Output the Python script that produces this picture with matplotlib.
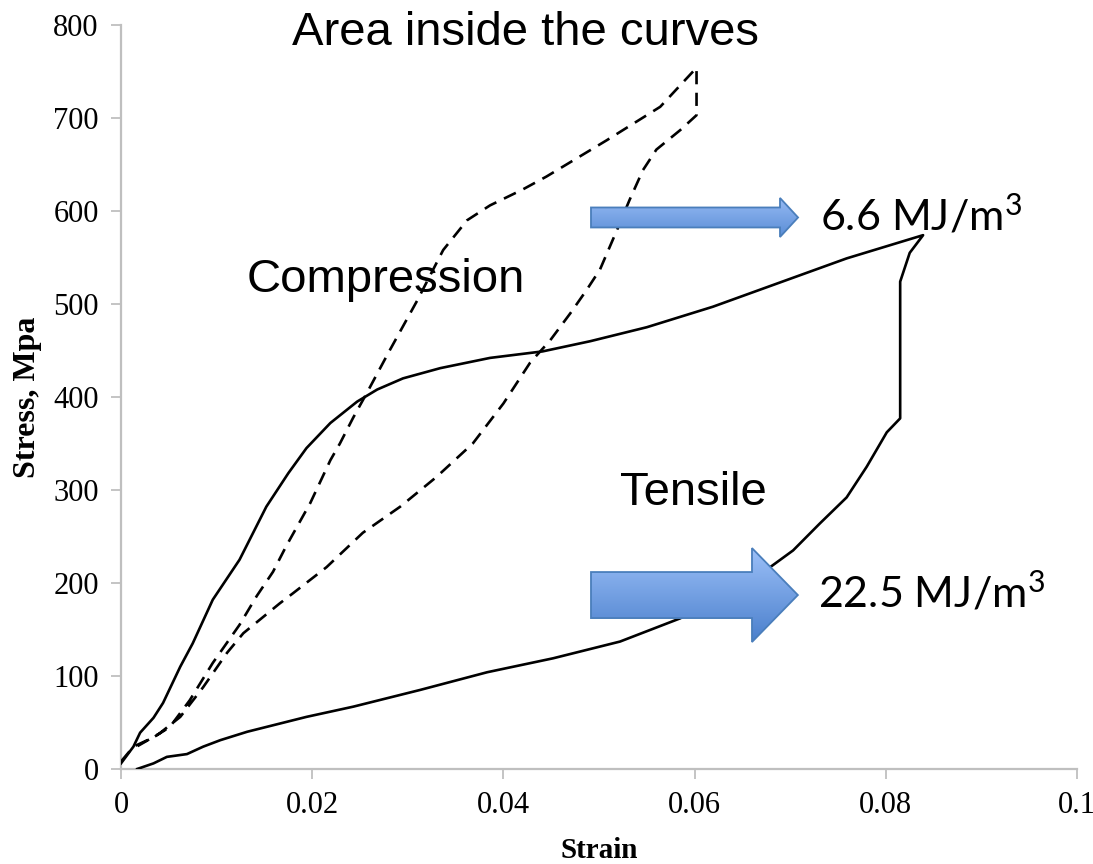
import numpy as np
import matplotlib
matplotlib.use("Agg")
import matplotlib.pyplot as plt
from matplotlib.patches import Polygon
from matplotlib.colors import LinearSegmentedColormap

# ---- data ----
tensile_strain = [0.0, 0.0013, 0.0020, 0.0034, 0.0044, 0.0062, 0.0075, 0.0096, 0.0124, 0.0152,
                  0.0175, 0.0194, 0.0219, 0.0247, 0.0268, 0.0295, 0.0334, 0.0386, 0.0441, 0.0491,
                  0.0550, 0.0619, 0.0689, 0.0759, 0.0839,
                  0.0825, 0.0815, 0.0815, 0.0801, 0.0780, 0.0759, 0.0731, 0.0703, 0.0679, 0.0630,
                  0.0585, 0.0522, 0.0452, 0.0383, 0.0313, 0.0243, 0.0194, 0.0132, 0.0104, 0.0086,
                  0.0069, 0.0048, 0.0034, 0.0017]
tensile_stress = [6, 24, 39, 55, 71, 110, 135, 182, 225, 282,
                  318, 345, 372, 395, 408, 420, 431, 442, 449, 460,
                  475, 497, 523, 549, 574,
                  555, 524, 377, 362, 325, 292, 264, 235, 217, 188,
                  162, 137, 119, 104, 85, 67, 56, 40, 31, 24,
                  16, 13, 6, 0]

compression_strain = [0.0, 0.0013, 0.0034, 0.0051, 0.0072, 0.0096, 0.0124, 0.0142, 0.0159, 0.0173,
                      0.0198, 0.0219, 0.0229, 0.0243, 0.0257, 0.0281, 0.0310, 0.0337, 0.0362,
                      0.0386, 0.0420, 0.0445, 0.0508, 0.0564, 0.0602,
                      0.0602, 0.0585, 0.0560, 0.0546, 0.0532, 0.0519, 0.0501, 0.0487, 0.0470,
                      0.0449, 0.0428, 0.0400, 0.0368, 0.0330, 0.0292, 0.0253, 0.0215, 0.0180,
                      0.0166, 0.0128, 0.0111, 0.0086, 0.0062, 0.0040, 0.0013]
compression_stress = [8, 24, 34, 45, 74, 114, 155, 186, 212, 240,
                      286, 332, 350, 378, 404, 450, 504, 558, 590,
                      606, 623, 637, 676, 712, 754,
                      703, 687, 666, 644, 612, 580, 537, 515, 490,
                      461, 437, 393, 350, 314, 282, 254, 217, 189,
                      178, 146, 125, 88, 56, 38, 22]

x_ticks = [0, 0.02, 0.04, 0.06, 0.08, 0.1]
x_tick_labels = ["0", "0.02", "0.04", "0.06", "0.08", "0.1"]
y_ticks = [0, 100, 200, 300, 400, 500, 600, 700, 800]

# ---- figure ----
plt.rcParams["mathtext.fontset"] = "custom"
plt.rcParams["mathtext.rm"] = "Lato"
plt.rcParams["mathtext.it"] = "Lato:italic"

fig = plt.figure(figsize=(10.93, 8.64), dpi=100)
ax = fig.add_axes([0.1107, 0.1100, 0.8747, 0.8611])

ax.plot(tensile_strain, tensile_stress, color="black", lw=1.9, solid_joinstyle="round", zorder=3)
ax.plot(compression_strain, compression_stress, color="black", lw=1.9,
        linestyle=(0, (5, 3.2)), zorder=3)


def grad_arrow(x0, xh, x1, yc, shaft_h, head_h, c_top, c_bot, edge):
    verts = [(x0, yc - shaft_h / 2), (xh, yc - shaft_h / 2), (xh, yc - head_h / 2), (x1, yc),
             (xh, yc + head_h / 2), (xh, yc + shaft_h / 2), (x0, yc + shaft_h / 2)]
    poly = Polygon(verts, closed=True, facecolor="none", edgecolor=edge, lw=1.3, zorder=6)
    ax.add_patch(poly)
    grad = np.linspace(0, 1, 256).reshape(-1, 1)
    cmap = LinearSegmentedColormap.from_list("g", [c_top, c_bot])
    im = ax.imshow(grad, cmap=cmap, extent=[x0, x1, yc - head_h / 2, yc + head_h / 2],
                   origin="upper", aspect="auto", zorder=5, interpolation="bilinear")
    im.set_clip_path(poly)


grad_arrow(0.04916, 0.06893, 0.07082, 593, 21.5, 42, "#97bbf4", "#5a8dd6", "#4a7ebb")
grad_arrow(0.04916, 0.0660, 0.0708, 187, 49.5, 101, "#9cc0f8", "#4a7fcc", "#4a7ebb")

ax.set_xlim(0, 0.1)
ax.set_ylim(0, 800)
ax.set_aspect("auto")

for s in ["top", "right"]:
    ax.spines[s].set_visible(False)
for s in ["left", "bottom"]:
    ax.spines[s].set_color("#bfbfbf")
    ax.spines[s].set_linewidth(1.6)

ax.set_xticks(x_ticks)
ax.set_xticklabels(x_tick_labels)
ax.set_yticks(y_ticks)
ax.tick_params(axis="both", colors="#bfbfbf", length=7, width=1.3, labelcolor="black",
               labelsize=22, pad=9)
for lab in ax.get_xticklabels() + ax.get_yticklabels():
    lab.set_fontfamily("Liberation Serif")

ax.set_xlabel("Strain", fontfamily="Liberation Serif", fontweight="bold", fontsize=21, labelpad=12)
ax.set_ylabel("Stress, Mpa", fontfamily="Liberation Serif", fontweight="bold", fontsize=23, labelpad=8)

sans = "Liberation Sans"
ax.text(0.04226, 778.5, "Area inside the curves", fontfamily=sans, fontsize=34,
        ha="center", va="baseline", clip_on=False)
ax.text(0.01318, 513, "Compression", fontfamily=sans, fontsize=34, ha="left", va="baseline")
ax.text(0.0522, 284, "Tensile", fontfamily=sans, fontsize=34, ha="left", va="baseline")
ax.text(0.07312, 579.6, r"6.6 MJ/m$^{\mathrm{3}}$", fontfamily="Lato", fontsize=31,
        ha="left", va="baseline", zorder=7)
ax.text(0.0729, 174, r"22.5 MJ/m$^{\mathrm{3}}$", fontfamily="Lato", fontsize=31,
        ha="left", va="baseline", zorder=7)

fig.savefig("out.png", dpi=100)
